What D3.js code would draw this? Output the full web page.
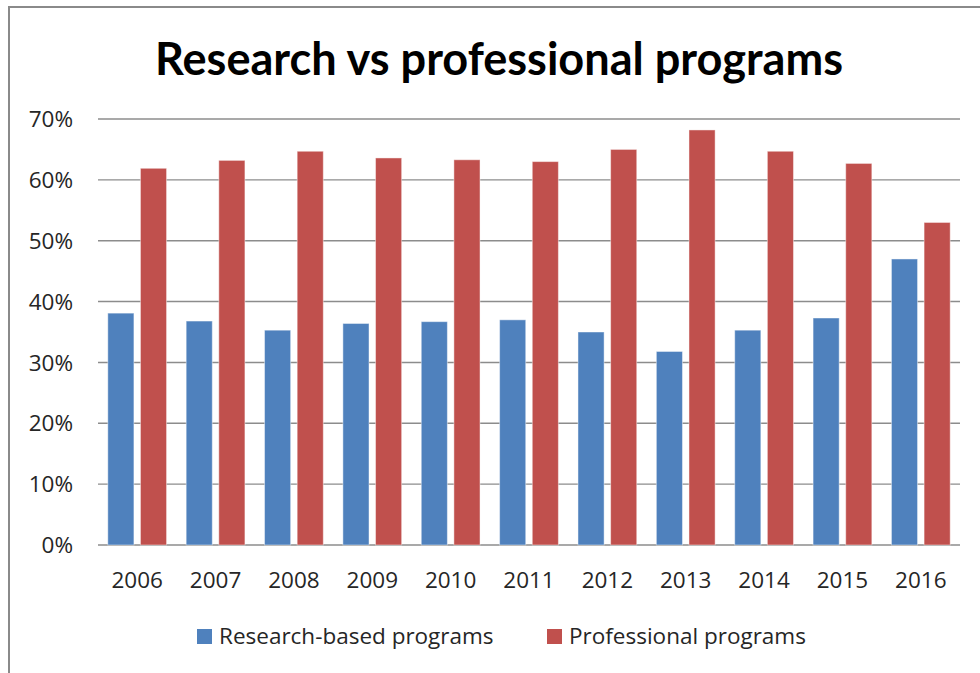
<!DOCTYPE html>
<html lang="en">
<head>
    <meta charset="UTF-8">
    <title>Research vs professional programs</title>
    <script src="https://d3js.org/d3.v7.min.js"></script>
    <style>
        body { margin: 0; background: #fff; }
        text { font-family: "Open Sans", sans-serif; fill: #262626; }
        .title { font-family: Lato, sans-serif; fill: #000; }
    </style>
</head>
<body>
    <svg id="chart" width="980" height="673"></svg>

    <script>
        // data
        const years = ["2006", "2007", "2008", "2009", "2010", "2011", "2012", "2013", "2014", "2015", "2016"];
        const research = [38.1, 36.8, 35.3, 36.4, 36.7, 37.0, 35.0, 31.8, 35.3, 37.3, 47.0];
        const professional = [61.9, 63.2, 64.7, 63.6, 63.3, 63.0, 65.0, 68.2, 64.7, 62.7, 53.0];
        const seriesNames = ["Research-based programs", "Professional programs"];
        const seriesColors = ["#4f81bd", "#c0504d"];
        const yTicks = [0, 10, 20, 30, 40, 50, 60, 70];

        const svg = d3.select("#chart");

        // outer chart border (runs off the right and bottom edges)
        svg.append("rect")
            .attr("x", 9).attr("y", 7)
            .attr("width", 1000).attr("height", 700)
            .attr("fill", "none")
            .attr("stroke", "#8a8a8a")
            .attr("stroke-width", 2);

        const plot = { left: 98, right: 960, top: 119, bottom: 545 };
        const labelSize = 22.5;

        const x = d3.scaleBand()
            .domain(years)
            .range([plot.left, plot.right]);

        const xSub = d3.scaleBand()
            .domain(seriesNames)
            .range([9.8, x.bandwidth() - 9.8])
            .paddingInner(0.2);

        const y = d3.scaleLinear()
            .domain([0, 70])
            .range([plot.bottom, plot.top]);

        // gridlines
        svg.append("g")
            .selectAll("line")
            .data(yTicks)
            .join("line")
            .attr("x1", plot.left)
            .attr("x2", plot.right)
            .attr("y1", d => y(d))
            .attr("y2", d => y(d))
            .attr("stroke", "#8c8c8c")
            .attr("stroke-width", 1.4);

        // y tick labels
        svg.append("g")
            .selectAll("text")
            .data(yTicks)
            .join("text")
            .attr("x", 73)
            .attr("y", d => y(d))
            .attr("dy", "0.36em")
            .attr("text-anchor", "end")
            .attr("font-size", labelSize)
            .text(d => d + "%");

        // bars
        const rows = years.map((yr, i) => ({ year: yr, values: [research[i], professional[i]] }));

        const groups = svg.append("g")
            .selectAll("g")
            .data(rows)
            .join("g")
            .attr("transform", d => `translate(${x(d.year)},0)`);

        groups.selectAll("rect")
            .data(d => d.values.map((v, k) => ({ name: seriesNames[k], value: v, color: seriesColors[k] })))
            .join("rect")
            .attr("x", d => xSub(d.name))
            .attr("width", xSub.bandwidth())
            .attr("y", d => y(d.value))
            .attr("height", d => y(0) - y(d.value))
            .attr("fill", d => d.color)
            .attr("stroke", "#ffffff")
            .attr("stroke-opacity", 0.45)
            .attr("stroke-width", 1);

        // x labels
        svg.append("g")
            .selectAll("text")
            .data(years)
            .join("text")
            .attr("x", d => x(d) + x.bandwidth() / 2)
            .attr("y", 588)
            .attr("text-anchor", "middle")
            .attr("font-size", labelSize)
            .text(d => d);

        // title, sized to the reference width
        const title = svg.append("text")
            .attr("class", "title")
            .attr("x", 499)
            .attr("y", 75)
            .attr("text-anchor", "middle")
            .attr("font-weight", "bold")
            .attr("font-size", 100)
            .text("Research vs professional programs");
        const tw = title.node().getComputedTextLength();
        title.attr("font-size", 100 * 688 / tw);

        // legend
        const legendX = [197, 547];
        const legend = svg.append("g")
            .selectAll("g")
            .data(seriesNames)
            .join("g")
            .attr("transform", (d, i) => `translate(${legendX[i]},629)`);

        legend.append("rect")
            .attr("width", 15)
            .attr("height", 15)
            .attr("fill", (d, i) => seriesColors[i]);

        legend.append("text")
            .attr("x", 22)
            .attr("y", 15)
            .attr("font-size", labelSize)
            .text(d => d);
    </script>
</body>
</html>
